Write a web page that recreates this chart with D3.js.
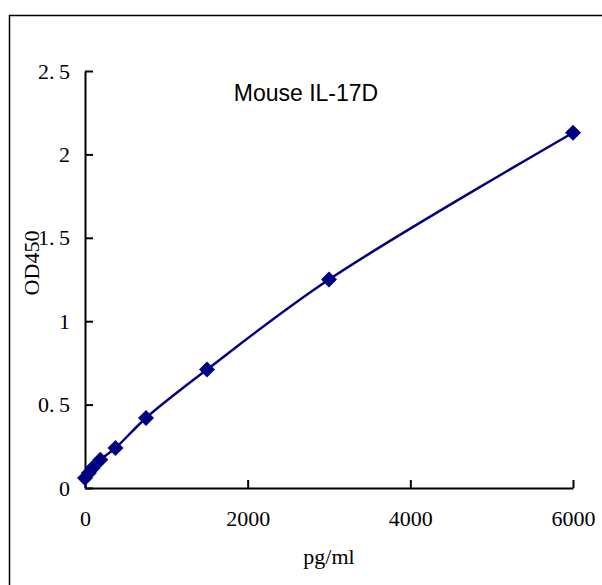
<!DOCTYPE html>
<html>
<head>
<meta charset="utf-8">
<script src="https://cdn.jsdelivr.net/npm/d3@7"></script>
<style>
  body { margin: 0; background: #fff; }
  .axis path, .axis line { stroke: #000; stroke-width: 2; }
  .axis text { font-family: "Liberation Serif", "DejaVu Serif", serif; font-size: 22px; fill: #000; }
  .label { font-family: "Liberation Serif", "DejaVu Serif", serif; font-size: 22px; fill: #000; }
  .title { font-family: "Liberation Sans", Arial, sans-serif; font-size: 23px; fill: #000; }
</style>
</head>
<body>
<div id="chart"></div>
<script>
const concentrations = [0, 47, 94, 188, 375, 750, 1500, 3000, 6000];
const odValues = [0.06, 0.09, 0.12, 0.17, 0.24, 0.42, 0.71, 1.25, 2.13];
const xTicks = [0, 2000, 4000, 6000];
const yTicks = [0, 0.5, 1, 1.5, 2, 2.5];

const width = 602;
const height = 585;
const margins = { top: 71, right: 29, bottom: 97, left: 85 };

const points = concentrations.map((c, i) => [c, odValues[i]]);

const svg = d3.select('#chart')
  .append('svg')
  .attr('width', width)
  .attr('height', height);

// outer frame, runs off the right and bottom edges
svg.append('rect')
  .attr('x', 9.5)
  .attr('y', 15.5)
  .attr('width', 640)
  .attr('height', 640)
  .attr('fill', 'none')
  .attr('stroke', '#000')
  .attr('stroke-width', 1.5);

const xScale = d3.scaleLinear()
  .domain([0, 6000])
  .range([margins.left, width - margins.right]);

const yScale = d3.scaleLinear()
  .domain([0, 2.5])
  .range([height - margins.bottom, margins.top]);

const yFormat = d => (d === 0 ? '0' : String(d).replace('.', '.\u2009'));

svg.append('g')
  .attr('class', 'axis axis-left')
  .attr('transform', `translate(${margins.left},0)`)
  .call(d3.axisLeft(yScale).tickValues(yTicks).tickFormat(yFormat)
    .tickSizeInner(-8).tickSizeOuter(0).tickPadding(15));

svg.append('g')
  .attr('class', 'axis axis-bottom')
  .attr('transform', `translate(0,${height - margins.bottom})`)
  .call(d3.axisBottom(xScale).tickValues(xTicks).tickFormat(d3.format('d'))
    .tickSizeInner(-8).tickSizeOuter(0).tickPadding(22));

const line = d3.line()
  .x(d => xScale(d[0]))
  .y(d => yScale(d[1]))
  .curve(d3.curveCatmullRom);

svg.append('path')
  .datum(points)
  .attr('fill', 'none')
  .attr('stroke', '#000080')
  .attr('stroke-width', 2.5)
  .attr('d', line);

svg.selectAll('.marker')
  .data(points)
  .enter()
  .append('path')
  .attr('class', 'marker')
  .attr('d', d3.symbol(d3.symbolSquare, 128)())
  .attr('fill', '#000080')
  .attr('transform', d => `translate(${xScale(d[0])},${yScale(d[1])}) rotate(45)`);

svg.append('text')
  .attr('class', 'title')
  .attr('x', 306)
  .attr('y', 101)
  .attr('text-anchor', 'middle')
  .text('Mouse IL-17D');

svg.append('text')
  .attr('class', 'label')
  .attr('x', 329)
  .attr('y', 564)
  .attr('text-anchor', 'middle')
  .text('pg/ml');

svg.append('text')
  .attr('class', 'label')
  .attr('transform', 'translate(39,263) rotate(-90)')
  .attr('text-anchor', 'middle')
  .text('OD450');
</script>
</body>
</html>
